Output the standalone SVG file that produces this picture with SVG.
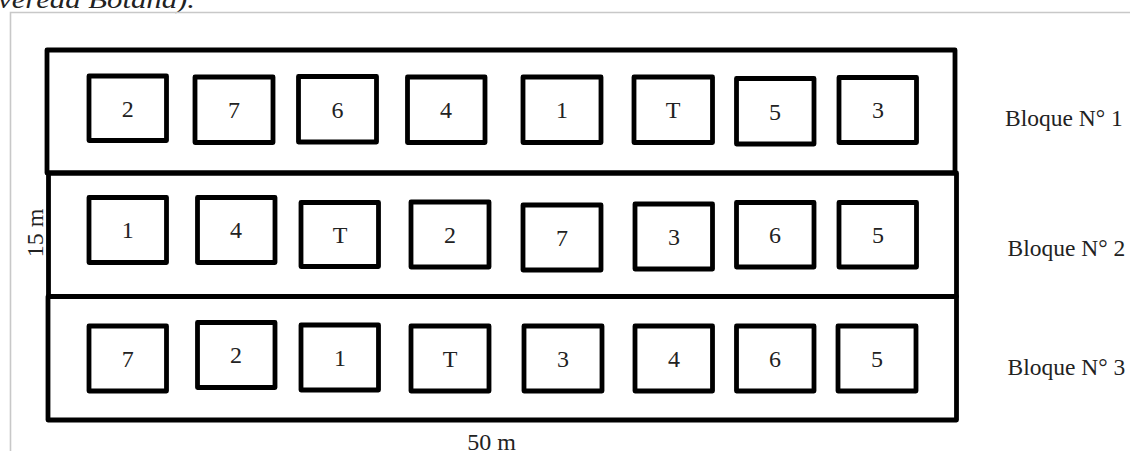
<svg xmlns="http://www.w3.org/2000/svg" width="1130" height="453" viewBox="0 0 1130 453">
<style>
.blk{fill:none;stroke:#000;stroke-width:4.8;stroke-linejoin:round}
.bx{fill:#fff;stroke:#000;stroke-width:4.8;stroke-linejoin:round}
.t{font-family:"Liberation Serif","Times New Roman",serif;font-size:24px;fill:#222;text-anchor:middle}
.lb{font-family:"Liberation Serif","Times New Roman",serif;font-size:23.5px;fill:#222}
.frame{stroke:#c8c8c8;stroke-width:1.6;fill:none}
</style>
<text x="195" y="8" font-family="Liberation Serif, Times New Roman, serif" font-size="26" font-style="italic" fill="#222" text-anchor="end" textLength="197" lengthAdjust="spacingAndGlyphs">vereda Botana).</text>
<path class="frame" d="M10.5 451 V12.5 H1130"/>
<g id="block1">
<rect class="blk" x="47" y="50" width="908" height="123"/>
<g id="b1-1"><rect class="bx" x="89" y="76" width="77.5" height="64.5"/><text class="t" x="127.7" y="117">2</text></g>
<g id="b1-2"><rect class="bx" x="195" y="77" width="78" height="65.5"/><text class="t" x="234" y="118">7</text></g>
<g id="b1-3"><rect class="bx" x="298.5" y="76.5" width="78" height="65.5"/><text class="t" x="337.5" y="118">6</text></g>
<g id="b1-4"><rect class="bx" x="407.5" y="77" width="77.5" height="65.5"/><text class="t" x="446" y="118">4</text></g>
<g id="b1-5"><rect class="bx" x="523" y="77" width="78" height="65.5"/><text class="t" x="562" y="118">1</text></g>
<g id="b1-6"><rect class="bx" x="634" y="77" width="78.5" height="65.5"/><text class="t" x="673" y="118">T</text></g>
<g id="b1-7"><rect class="bx" x="736.5" y="78.5" width="77.5" height="65.5"/><text class="t" x="775" y="120">5</text></g>
<g id="b1-8"><rect class="bx" x="839" y="77.5" width="77.5" height="65"/><text class="t" x="878" y="118">3</text></g>
</g>
<g id="block2">
<rect class="blk" x="48.5" y="173" width="908" height="123.5"/>
<g id="b2-1"><rect class="bx" x="89" y="197.5" width="77.5" height="65"/><text class="t" x="127.7" y="238">1</text></g>
<g id="b2-2"><rect class="bx" x="197.5" y="197.5" width="77.5" height="65"/><text class="t" x="236" y="238">4</text></g>
<g id="b2-3"><rect class="bx" x="301" y="202.5" width="77.5" height="64"/><text class="t" x="340" y="243">T</text></g>
<g id="b2-4"><rect class="bx" x="411" y="202" width="78" height="65"/><text class="t" x="450" y="243">2</text></g>
<g id="b2-5"><rect class="bx" x="523" y="205" width="78" height="65"/><text class="t" x="562" y="246">7</text></g>
<g id="b2-6"><rect class="bx" x="635" y="204" width="77.5" height="65"/><text class="t" x="674" y="245">3</text></g>
<g id="b2-7"><rect class="bx" x="736.5" y="202.5" width="77.5" height="64.5"/><text class="t" x="775" y="243">6</text></g>
<g id="b2-8"><rect class="bx" x="839" y="202.5" width="77.5" height="64.5"/><text class="t" x="878" y="243">5</text></g>
</g>
<g id="block3">
<rect class="blk" x="48" y="296.5" width="908.5" height="123.5"/>
<g id="b3-1"><rect class="bx" x="89" y="326" width="77.5" height="65"/><text class="t" x="127.7" y="367">7</text></g>
<g id="b3-2"><rect class="bx" x="197.5" y="322.5" width="77.5" height="65"/><text class="t" x="236" y="363">2</text></g>
<g id="b3-3"><rect class="bx" x="301" y="325" width="77.5" height="65"/><text class="t" x="340" y="366">1</text></g>
<g id="b3-4"><rect class="bx" x="411" y="326" width="78" height="65"/><text class="t" x="450" y="367">T</text></g>
<g id="b3-5"><rect class="bx" x="524" y="326" width="78" height="65"/><text class="t" x="563" y="367">3</text></g>
<g id="b3-6"><rect class="bx" x="635" y="326" width="77.5" height="65"/><text class="t" x="674" y="367">4</text></g>
<g id="b3-7"><rect class="bx" x="736.5" y="326" width="77.5" height="65"/><text class="t" x="775" y="367">6</text></g>
<g id="b3-8"><rect class="bx" x="838" y="326" width="78" height="65"/><text class="t" x="877" y="367">5</text></g>
</g>
<g id="labels">
<text class="lb" x="1005" y="126">Bloque N° 1</text>
<text class="lb" x="1007.5" y="256">Bloque N° 2</text>
<text class="lb" x="1007.5" y="375">Bloque N° 3</text>
<text class="t" transform="translate(42.5 233) rotate(-90)" x="0" y="0">15 m</text>
<text class="t" x="491.5" y="450">50 m</text>
</g>
</svg>
